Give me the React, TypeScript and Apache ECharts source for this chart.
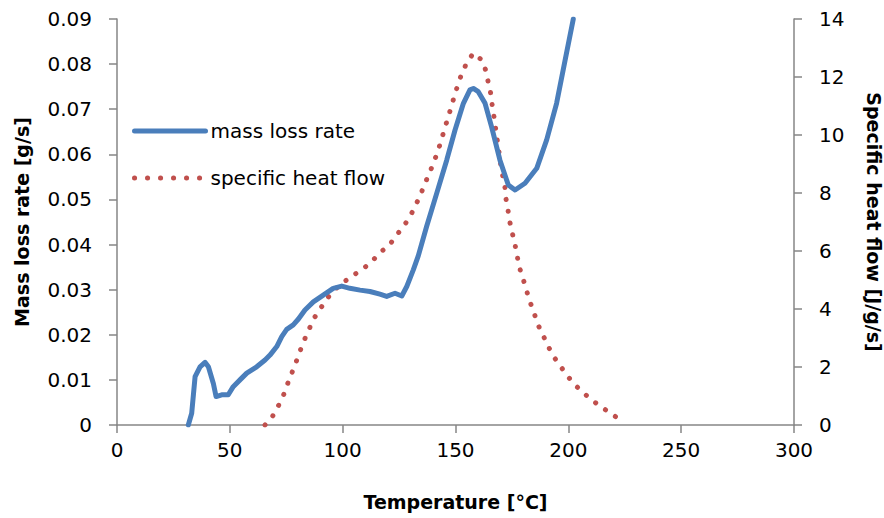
import React, { useEffect, useRef } from "react";
import * as echarts from "echarts";

const xTicks = [0, 50, 100, 150, 200, 250, 300];

const massT = [
  31.6, 33.1, 34.6, 36.8, 39.0, 40.5, 42.7, 43.9, 46.4, 49.3, 51.5, 54.5, 57.5, 61.9, 65.6, 67.8,
  70.8, 73.0, 75.2, 78.1, 80.4, 83.3, 87.0, 91.4, 95.8, 99.6, 103.2, 107.7, 112.1, 116.5, 119.5,
  123.2, 126.2, 128.4, 131.3, 133.5, 137.2, 141.7, 146.1, 149.8, 153.5, 156.4, 157.9, 160.1, 163.1,
  166.0, 169.7, 173.4, 176.4, 180.8, 186.0, 190.4, 194.8, 198.5, 202.2,
];
const massRate = [
  0, 0.0026, 0.0107, 0.0129, 0.0139, 0.0129, 0.0092, 0.0063, 0.0067, 0.0067, 0.0085, 0.01, 0.0115,
  0.0129, 0.0144, 0.0155, 0.0174, 0.0196, 0.0212, 0.0222, 0.0235, 0.0255, 0.0273, 0.0288, 0.0303,
  0.0308, 0.0303, 0.0299, 0.0296, 0.029, 0.0285, 0.0292, 0.0286, 0.0307, 0.0344, 0.0375, 0.044,
  0.0514, 0.0587, 0.0654, 0.0713, 0.0743, 0.0746, 0.0739, 0.0713, 0.0661, 0.0587, 0.0532, 0.0521,
  0.0536, 0.0569, 0.0632, 0.0713, 0.0807, 0.09,
];

const heatT = [
  65.6, 69.0, 71.5, 73.7, 75.5, 77.4, 79.3, 81.1, 83.0, 85.1, 87.3, 90.0, 92.9, 96.3, 100.3, 104.4,
  108.9, 112.9, 116.5, 120.5, 123.6, 126.9, 129.8, 132.0, 134.3, 136.2, 138.3, 140.2, 142.0, 143.6,
  145.0, 146.5, 148.0, 149.5, 151.0, 152.7, 155.0, 157.9, 161.6, 163.5, 164.5, 165.7, 166.3, 167.1,
  167.8, 168.5, 169.3, 170.0, 170.9, 171.9, 172.4, 173.3, 174.1, 175.2, 176.4, 177.4, 178.3, 180.0,
  181.5, 183.0, 184.8, 186.4, 188.6, 190.9, 193.3, 196.3, 199.3, 202.6, 206.4, 210.4, 214.5, 218.8,
  223.2,
];
const heatFlow = [
  0, 0.31, 0.66, 1.01, 1.4, 1.78, 2.16, 2.55, 2.93, 3.3, 3.68, 4.0, 4.34, 4.66, 4.92, 5.15, 5.38,
  5.63, 5.95, 6.18, 6.52, 6.84, 7.18, 7.53, 7.9, 8.28, 8.66, 9.02, 9.4, 9.79, 10.17, 10.55, 10.94,
  11.34, 11.72, 12.1, 12.49, 12.82, 12.59, 12.21, 11.82, 11.4, 11.0, 10.61, 10.21, 9.83, 9.4, 9.0,
  8.6, 8.2, 7.79, 7.39, 6.99, 6.61, 6.21, 5.8, 5.44, 5.03, 4.63, 4.25, 3.87, 3.48, 3.13, 2.74, 2.38,
  2.05, 1.72, 1.41, 1.13, 0.86, 0.63, 0.4, 0.17,
];

const seriesNames = ["mass loss rate", "specific heat flow"];
const axisTitles = ["Temperature [°C]", "Mass loss rate [g/s]", "Specific heat flow [J/g/s]"];

const BLUE = "#4a7ebb";
const RED = "#c0504d";
const AXIS = "#868686";
const FONT = "DejaVu Sans";

export default function App() {
  const ref = useRef<HTMLDivElement>(null);
  useEffect(() => {
    if (!ref.current) return;
    const chart = echarts.init(ref.current, null, { renderer: "svg" });
    const axisLine = { show: true, lineStyle: { color: AXIS, width: 1.5 } };
    const axisTick = { show: true, length: 8, lineStyle: { color: AXIS, width: 1.5 } };
    const label = { color: "#000", fontFamily: FONT, fontSize: 20 };
    const nameStyle = { color: "#000", fontFamily: FONT, fontSize: 19, fontWeight: "bold" as const };
    const hiddenSymbol = { color: "rgba(0,0,0,0)", borderWidth: 0, opacity: 0 };
    chart.setOption({
      animation: false,
      backgroundColor: "#fff",
      grid: {
        left: 117,
        right: 90,
        top: 19,
        bottom: 93,
        containLabel: false,
        outerBoundsMode: "none",
      },
      legend: {
        orient: "vertical",
        left: 127,
        top: 116,
        itemWidth: 71,
        itemHeight: 22,
        itemGap: 27,
        textStyle: { color: "#000", fontFamily: FONT, fontSize: 20 },
        data: [
          {
            name: seriesNames[0],
            itemStyle: hiddenSymbol,
            lineStyle: { width: 5, color: BLUE, cap: "round" },
          },
          {
            name: seriesNames[1],
            itemStyle: hiddenSymbol,
            lineStyle: { width: 5, color: RED, type: [0.1, 12.9], cap: "round" },
          },
        ],
      },
      xAxis: {
        type: "value",
        min: xTicks[0],
        max: xTicks[xTicks.length - 1],
        interval: xTicks[1] - xTicks[0],
        name: axisTitles[0],
        nameLocation: "middle",
        nameGap: 67,
        nameTextStyle: nameStyle,
        axisLine,
        axisTick,
        axisLabel: { ...label, margin: 15 },
        splitLine: { show: false },
      },
      yAxis: [
        {
          type: "value",
          min: 0,
          max: 0.09,
          interval: 0.01,
          name: axisTitles[1],
          nameLocation: "middle",
          nameGap: 86,
          nameTextStyle: nameStyle,
          axisLine,
          axisTick,
          axisLabel: { ...label, margin: 25 },
          splitLine: { show: false },
        },
        {
          type: "value",
          min: 0,
          max: 14,
          interval: 2,
          position: "right",
          name: axisTitles[2],
          nameLocation: "middle",
          nameGap: 70,
          nameRotate: -90,
          nameTextStyle: nameStyle,
          axisLine,
          axisTick,
          axisLabel: { ...label, margin: 25 },
          splitLine: { show: false },
        },
      ],
      series: [
        {
          name: seriesNames[0],
          type: "line",
          yAxisIndex: 0,
          data: massT.map((t, i) => [t, massRate[i]]),
          showSymbol: false,
          symbol: "none",
          clip: true,
          lineStyle: { color: BLUE, width: 5, join: "round", cap: "round" },
          itemStyle: { color: BLUE },
          z: 3,
        },
        {
          name: seriesNames[1],
          type: "line",
          yAxisIndex: 1,
          data: heatT.map((t, i) => [t, heatFlow[i]]),
          showSymbol: false,
          symbol: "none",
          lineStyle: { color: RED, width: 5, type: [0.1, 11.9], cap: "round" },
          itemStyle: { color: RED },
          z: 2,
        },
      ],
    });
    return () => chart.dispose();
  }, []);
  return (
    <div
      ref={ref}
      style={{ position: "fixed", left: 0, top: 0, width: 884, height: 518, background: "#fff" }}
    />
  );
}
